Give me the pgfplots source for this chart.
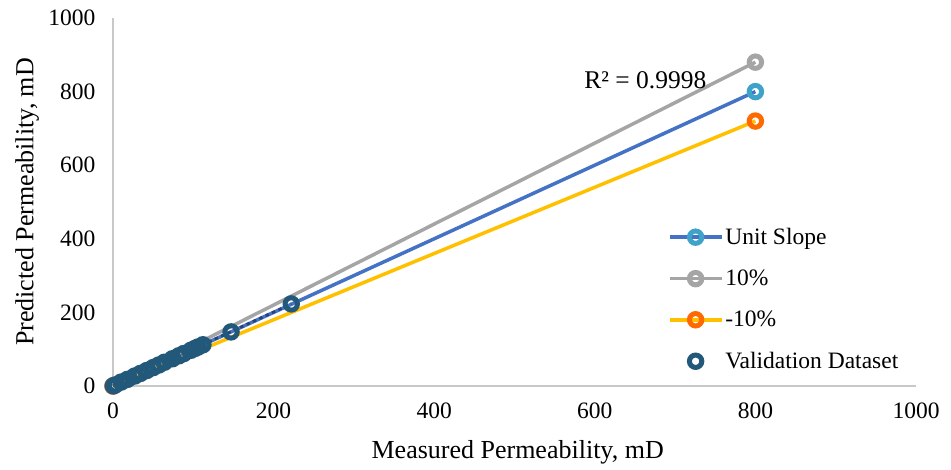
\documentclass[border=0pt]{standalone}
\usepackage{fontspec}
\setmainfont{Liberation Serif}
\usepackage{pgfplots}
\pgfplotsset{compat=1.18}
\definecolor{cUnit}{HTML}{4472C4}
\definecolor{cUnitM}{HTML}{3FA3C9}
\definecolor{cTen}{HTML}{A5A5A5}
\definecolor{cMinus}{HTML}{FFC000}
\definecolor{cMinusM}{HTML}{FF6A00}
\definecolor{cVal}{HTML}{22587A}
\definecolor{cTrend}{HTML}{264478}
\definecolor{cAx}{HTML}{C8C8C8}
\begin{document}
\begin{tikzpicture}
\begin{axis}[
  scale only axis,
  width=803pt, height=368pt,
  xmin=0, xmax=1000, ymin=0, ymax=1000,
  xtick={0,200,400,600,800,1000},
  ytick={0,200,400,600,800,1000},
  axis x line=bottom, axis y line=left,
  axis line style={-, cAx, line width=1.2pt},
  major tick length=0pt,
  clip=false,
  /pgf/number format/assume math mode=true,
  /pgf/number format/1000 sep={},
  tick label style={font=\fontsize{23.5}{28}\selectfont},
  xticklabel style={yshift=-13pt},
  yticklabel style={xshift=-14pt},
  xlabel={Measured Permeability, mD},
  ylabel={Predicted Permeability, mD},
  label style={font=\fontsize{26}{31}\selectfont},
  xlabel style={at={(axis description cs:0.504,-0.181)}, anchor=center},
  ylabel style={at={(axis description cs:-0.107,0.5)}, anchor=center},
  legend style={at={(axis description cs:0.687,0.44)}, anchor=north west, draw=none, fill=none,
    font=\fontsize{23.5}{28}\selectfont, row sep=20pt,
    /tikz/every even column/.append style={column sep=2pt}},
  legend cell align=left,
  legend image code/.code={
    \draw[#1, mark repeat=2, mark phase=2] plot coordinates {(0pt,0pt) (26pt,0pt) (52pt,0pt)};
  },
  every axis plot/.append style={mark size=6.2pt},
]
\addplot[cUnit, line width=3.5pt, mark=o,
  mark options={draw=cUnitM, fill=white, line width=5pt}]
  coordinates {(0,0) (800,800)};
\addlegendentry{Unit Slope}
\addplot[cTen, line width=3.5pt, mark=o,
  mark options={draw=cTen, fill=white, line width=5pt}]
  coordinates {(0,0) (800,880)};
\addlegendentry{10\%}
\addplot[cMinus, line width=3.5pt, mark=o,
  mark options={draw=cMinusM, fill=white, line width=5pt}]
  coordinates {(0,0) (800,720)};
\addlegendentry{-10\%}
\addplot[only marks, mark=o,
  mark options={draw=cVal, fill=white, line width=5pt}]
  coordinates {
  (3,3) (10,10.5) (18,18) (34,34) (42,42) (57,57) (64,64.5) (82,82)
  (88,88) (102,102) (112,112)
  (0.5,0.5) (27,27) (50,50) (74,74) (97,97) (106,106)
  (147,147) (222,223)};
\addlegendentry{Validation Dataset}
\addplot[cTrend, line width=2.8pt, dash pattern=on 3.5pt off 3.5pt, forget plot]
  coordinates {(0,0.2) (222,223)};
\node[font=\fontsize{25.5}{30}\selectfont] at (axis cs:663,831) {R² = 0.9998};
\end{axis}
\pgfresetboundingbox
\path (-113pt,-84pt) rectangle (838pt,386pt);
\end{tikzpicture}
\end{document}
